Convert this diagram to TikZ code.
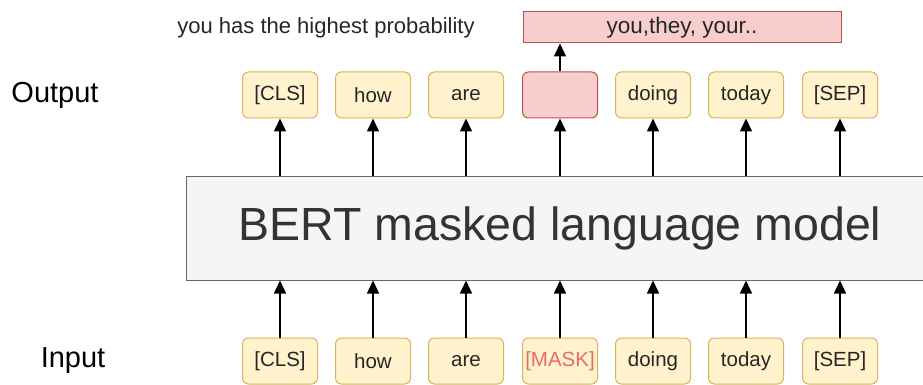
\documentclass[tikz,border=0pt]{standalone}
\usepackage{fontspec}
\setmainfont{Liberation Sans}
\usepackage{tikz}
\usetikzlibrary{arrows.meta}

\definecolor{tokfill}{HTML}{FFF2CC}
\definecolor{tokdraw}{HTML}{D6B656}
\definecolor{predfill}{HTML}{F8CECC}
\definecolor{preddraw}{HTML}{B85450}
\definecolor{bertfill}{HTML}{F5F5F5}
\definecolor{bertdraw}{HTML}{666666}
\definecolor{maskred}{HTML}{EA6B66}

\tikzset{
  tokbox/.style={draw=tokdraw, fill=tokfill, rounded corners=6pt, line width=1pt,
    minimum width=75pt, minimum height=46pt, inner sep=0pt, text=black!85,
    font=\fontsize{20.5}{20.5}\selectfont},
  arr/.style={line width=1.5pt, -{Triangle[length=13pt,width=12pt]}},
}

\begin{document}
\begin{tikzpicture}[x=1pt,y=-1pt]
\useasboundingbox (0,0) rectangle (923,385);

\node [draw=bertdraw, fill=bertfill, line width=1pt, minimum width=748pt, minimum height=104pt,
  text=black!80, font=\fontsize{46.5}{46.5}\selectfont] (bert) at (560,228) {BERT masked language model}; % runs past the right edge

\node [draw=none, font=\fontsize{29}{29}\selectfont] (outlbl) at (55,95) {Output};
\node [draw=none, font=\fontsize{29}{29}\selectfont] (inlbl) at (73,361) {Input};

\foreach \x/\tok/\nm in {280/{[CLS]}/cls, 373/how/how, 466/are/are, 653/doing/doing, 746/today/today, 840/{[SEP]}/sep}{
    \node [tokbox] (in-\nm) at (\x,361) {\tok};
    \node [tokbox] (out-\nm) at (\x,95) {\tok};
    \draw [arr] (in-\nm) -- (in-\nm |- bert.south);
    \draw [arr] (bert.north -| out-\nm) -- (out-\nm);
}

\node [tokbox, text=maskred] (in-mask) at (560,361) {[MASK]};
\node [tokbox, draw=preddraw, fill=predfill] (out-mask) at (560,95) {};
\draw [arr] (in-mask) -- (in-mask |- bert.south);
\draw [arr] (bert.north -| out-mask) -- (out-mask);

\node [draw=preddraw, fill=predfill, line width=1pt, minimum width=318pt, minimum height=31pt,
  inner sep=0pt, text=black!85, font=\fontsize{22.5}{22.5}\selectfont] (cands) at (682,27.5) {you,they, your..};
\draw [arr] (out-mask) -- (out-mask |- cands.south); % predicted word

\node [draw=none, text=black!85, font=\fontsize{22}{22}\selectfont] (note) at (326,28) {you has the highest probability};

\end{tikzpicture}
\end{document}
